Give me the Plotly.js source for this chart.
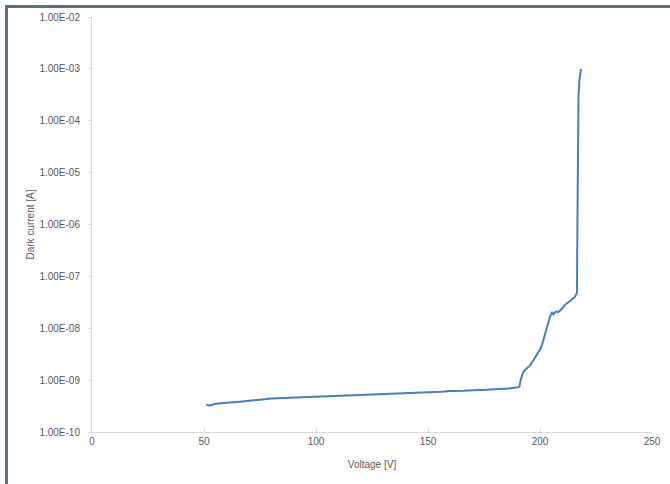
<!DOCTYPE html>
<html><head><meta charset="utf-8">
<script src="https://cdn.plot.ly/plotly-3.0.1.min.js"></script>
<style>
html,body{margin:0;padding:0;background:#fff;}
#wrap{position:relative;width:670px;height:484px;}
#frame{position:absolute;left:5px;top:5px;width:670px;height:477px;border-left:3px solid #5d6f7b;border-top:3px solid #5d6f7b;border-bottom:1px solid #d8d8d8;pointer-events:none;z-index:5;}
#chart{position:absolute;left:0;top:0;width:670px;height:484px;}
</style></head>
<body><div id="wrap"><div id="chart"></div><div id="frame"></div></div>
<script>
const voltage = [51,53,55,58,60,63,66,70,73,76,80,83,86,90,93,96,100,103,106,110,113,116,120,123,126,130,133,136,140,143,146,150,153,156,160,163,166,170,173,176,180,183,186,190,190.8,191.5,192.4,193.5,195.5,197,198.7,200,200.9,202.2,203.6,204.5,205.4,206,207,208,209,210,211,212.5,214,215.5,216.5,216.7,216.8,216.9,217.2,217.6,218.3];
const darkCurrent = [3.3e-10,3.25e-10,3.5e-10,3.55e-10,3.7e-10,3.75e-10,3.85e-10,4.05e-10,4.1e-10,4.25e-10,4.4e-10,4.45e-10,4.6e-10,4.65e-10,4.6e-10,4.75e-10,4.85e-10,4.8e-10,4.95e-10,5.05e-10,5.0e-10,5.15e-10,5.25e-10,5.2e-10,5.3e-10,5.45e-10,5.4e-10,5.5e-10,5.65e-10,5.6e-10,5.75e-10,5.85e-10,5.8e-10,5.95e-10,6.15e-10,6.1e-10,6.25e-10,6.4e-10,6.35e-10,6.5e-10,6.7e-10,6.75e-10,6.9e-10,7.3e-10,7.5e-10,1.05e-9,1.4e-9,1.6e-9,1.9e-9,2.4e-9,3.1e-9,3.9e-9,4.8e-9,7.4e-9,1.3e-8,1.7e-8,2.0e-8,1.85e-8,2.1e-8,2.05e-8,2.2e-8,2.4e-8,2.8e-8,3.1e-8,3.5e-8,4.0e-8,4.8e-8,1e-6,1e-5,1e-4,3e-4,6e-4,1e-3];
const yTickVals = [1e-10,1e-9,1e-8,1e-7,1e-6,1e-5,1e-4,1e-3,1e-2];
const yTickText = ["1.00E-10","1.00E-09","1.00E-08","1.00E-07","1.00E-06","1.00E-05","1.00E-04","1.00E-03","1.00E-02"];
const xTickVals = [0,50,100,150,200,250];

const font = {family:"Liberation Sans, Arial, sans-serif", size:10, color:"#595959"};
Plotly.newPlot('chart',[{
  x: voltage, y: darkCurrent, type:'scatter', mode:'lines',
  line:{color:'#4a7ebb', width:2}, hoverinfo:'none'
}],{
  width:670, height:484,
  margin:{l:92,r:18,t:17,b:52},
  paper_bgcolor:'#fff', plot_bgcolor:'#fff',
  showlegend:false,
  font: font,
  xaxis:{range:[0,250], tickvals:xTickVals, ticktext:xTickVals.map(String), showgrid:false, zeroline:false,
    showline:true, linecolor:'#d9d9d9', linewidth:1, ticks:'inside', ticklen:4, tickcolor:'#d9d9d9',
    tickfont:font, title:{text:'Voltage [V]', font:font, standoff:14}},
  yaxis:{type:'log', range:[-10,-2], tickvals:yTickVals, ticktext:yTickText, showgrid:false, zeroline:false,
    showline:true, linecolor:'#d9d9d9', linewidth:1, ticks:'outside', ticklen:3, tickcolor:'#d9d9d9',
    tickfont:font, ticklabelstandoff:6, title:{text:'Dark current [A]', font:font, standoff:2}}
},{staticPlot:true, displayModeBar:false});
</script></body></html>
